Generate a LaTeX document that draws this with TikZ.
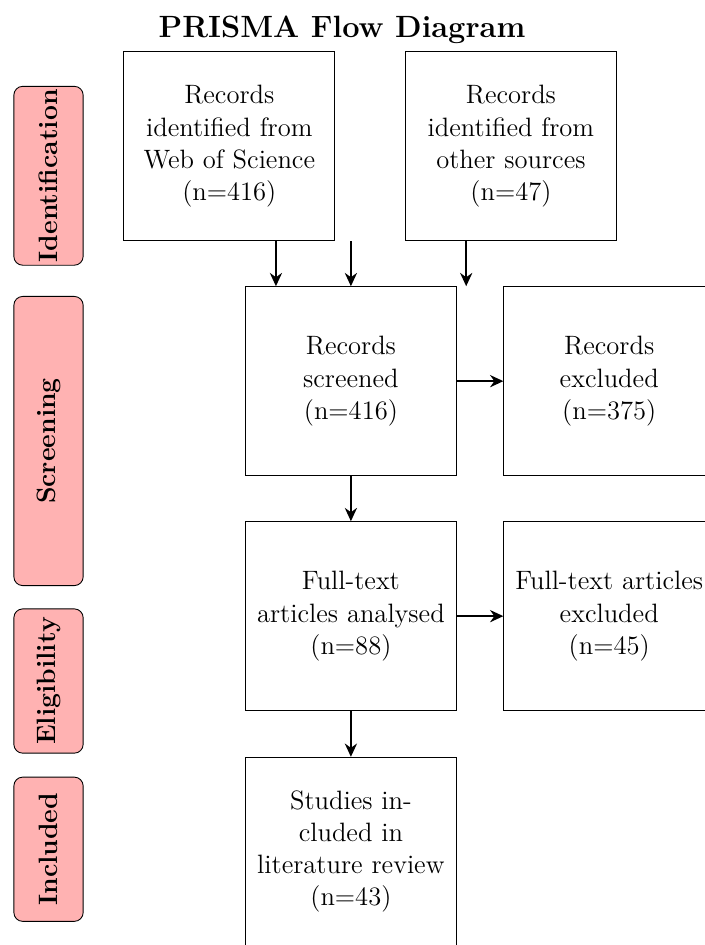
\documentclass[12pt,tikz,border=0pt]{standalone}
\usetikzlibrary{ arrows.meta, % For the arrow tips
                 positioning, % For easy node-relative placements
               }
\tikzstyle{box} = [rectangle, draw=black, text width=3.1cm, minimum height=3cm, inner sep=3.5pt, align=center]
\tikzstyle{stage} = [rectangle, rounded corners, draw=black, fill=red!30, rotate=90, minimum height=1.1cm, inner sep=1pt, font=\bfseries]
\tikzstyle{arrow} = [-{Stealth[length=6pt, width=5.5pt]}, line width=0.9pt]

\begin{document}
\begin{tikzpicture}
  \useasboundingbox (0,0) rectangle (11.19,-15);
  \node (title) [anchor=base, font=\fontsize{13.9}{16}\selectfont\bfseries] at (5.43,-0.60) {PRISMA Flow Diagram};

  % stages
  \node (ident) [stage, minimum width=2.84cm] at (0.77,-2.79) {Identification};
  \node (screen) [stage, minimum width=4.59cm] at (0.77,-7.0) {Screening};
  \node (elig) [stage, minimum width=2.29cm] at (0.77,-10.81) {Eligibility};
  \node (incl) [stage, minimum width=2.29cm] at (0.77,-13.48) {Included};

  % records
  \node (wos) [box] at (3.64,-2.32) {Records\\ identified from\\ Web of Science\\ (n=416)};
  \node (other) [box] at (8.11,-2.32) {Records\\ identified from\\ other sources\\ (n=47)};
  \node (screened) [box] at (5.57,-6.05) {Records\\ screened\\ (n=416)};
  \node (excluded) [box] at (9.67,-6.05) {Records\\ excluded\\ (n=375)};
  \node (fulltext) [box] at (5.57,-9.78) {Full-text\\ articles analysed\\ (n=88)};
  \node (ftexcluded) [box] at (9.67,-9.78) {Full-text articles\\ excluded\\ (n=45)};
  \node (included) [box] at (5.57,-13.52) {Studies in-\\ cluded in\\ literature review\\ (n=43)};

  \draw[arrow] ([xshift=0.74cm]wos.south) -- ([xshift=0.74cm]wos.south |- screened.north);
  \draw[arrow] (wos.south -| screened.north) -- (screened.north);
  \draw[arrow] ([xshift=-0.71cm]other.south) -- ([xshift=-0.71cm]other.south |- screened.north);
  \draw[arrow] (screened) -- (excluded);
  \draw[arrow] (screened) -- (fulltext);
  \draw[arrow] (fulltext) -- (ftexcluded);
  \draw[arrow] (fulltext) -- (included);
\end{tikzpicture}
\end{document}
